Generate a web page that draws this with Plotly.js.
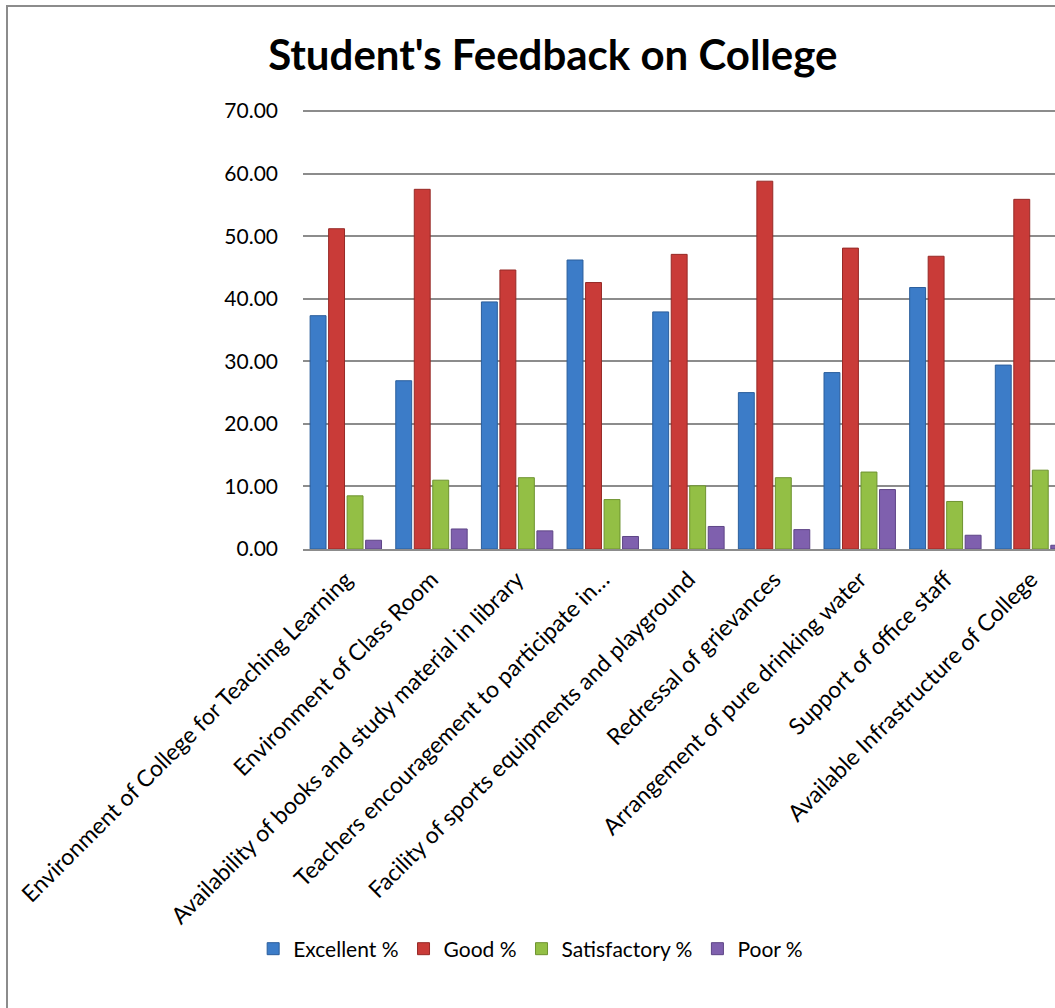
<!DOCTYPE html>
<html>
<head>
<meta charset="utf-8">
<script src="https://cdn.plot.ly/plotly-3.0.1.min.js"></script>
<style>
  html, body { margin: 0; padding: 0; background: #fff; overflow: hidden; }
  #chart { position: absolute; left: 0; top: 0; width: 1055px; height: 1008px; }
  #frame { position: absolute; left: 6px; top: 5px; width: 1200px; height: 1200px;
           border-left: 2px solid #8c8c8c; border-top: 2px solid #8c8c8c; pointer-events: none; }
</style>
</head>
<body>
<div id="chart"></div>
<div id="frame"></div>
<script>
const categories = [
  "Environment of College for Teaching Learning",
  "Environment of Class Room",
  "Availability of books and study material in library",
  "Teachers encouragement to participate in…",
  "Facility of sports equipments and playground",
  "Redressal of grievances",
  "Arrangement of pure drinking water",
  "Support of office staff",
  "Available Infrastructure of College"
];
const excellent    = [37.3, 26.9, 39.5, 46.2, 37.9, 25.0, 28.2, 41.8, 29.4];
const good         = [51.2, 57.5, 44.6, 42.6, 47.1, 58.8, 48.1, 46.8, 55.9];
const satisfactory = [8.5, 11.0, 11.4, 7.9, 10.1, 11.4, 12.3, 7.6, 12.6];
const poor         = [1.4, 3.2, 2.9, 2.0, 3.6, 3.1, 9.5, 2.2, 0.6];
const seriesNames  = ["Excellent %", "Good %", "Satisfactory %", "Poor %"];
const yTicks       = [0, 10, 20, 30, 40, 50, 60, 70];

const colors = ["#3c7cc8", "#c93b38", "#93bf45", "#7f60ae"];
const edge   = ["#2b5e9c", "#962a27", "#6e9330", "#5e4586"];
const values = [excellent, good, satisfactory, poor];

const traces = values.map((v, i) => ({
  type: "bar",
  name: seriesNames[i],
  x: categories,
  y: v,
  marker: { color: colors[i], line: { color: edge[i], width: 1 } },
  hoverinfo: "x+y+name"
}));

const font = "Lato, 'Open Sans', 'DejaVu Sans', sans-serif";

const layout = {
  width: 1055,
  height: 1008,
  margin: { l: 303, r: 0, t: 108, b: 459 },
  paper_bgcolor: "rgba(0,0,0,0)",
  plot_bgcolor: "rgba(0,0,0,0)",
  font: { family: font, color: "#000" },
  title: {
    text: "<b>Student's Feedback on College</b>",
    font: { family: font, size: 42, color: "#000" },
    xref: "container", x: 0.524, xanchor: "center",
    yref: "container", y: 0.9455, yanchor: "middle"
  },
  barmode: "group",
  bargap: 0.136,
  bargroupgap: 0.14,
  xaxis: {
    type: "category",
    range: [-0.5, 8.28],
    tickangle: -45,
    tickfont: { family: font, size: 23, color: "#000" },
    ticklabelstandoff: 6,
    showline: true,
    linecolor: "#8c8c8c",
    linewidth: 2,
    ticks: "",
    showgrid: false,
    fixedrange: true
  },
  yaxis: {
    range: [0, 70.5],
    tickvals: yTicks,
    tickformat: ".2f",
    tickfont: { family: font, size: 21, color: "#000" },
    showgrid: true,
    gridcolor: "#8c8c8c",
    gridwidth: 1.5,
    zeroline: false,
    showline: false,
    ticks: "",
    ticklabelstandoff: 24,
    fixedrange: true
  },
  showlegend: true,
  legend: {
    orientation: "h",
    xref: "container", x: 0.503, xanchor: "center",
    yref: "container", y: 0.0585, yanchor: "middle",
    font: { family: font, size: 21, color: "#000" },
    itemwidth: 30,
    bgcolor: "rgba(0,0,0,0)"
  }
};

Plotly.newPlot("chart", traces, layout, { displayModeBar: false });
</script>
</body>
</html>
